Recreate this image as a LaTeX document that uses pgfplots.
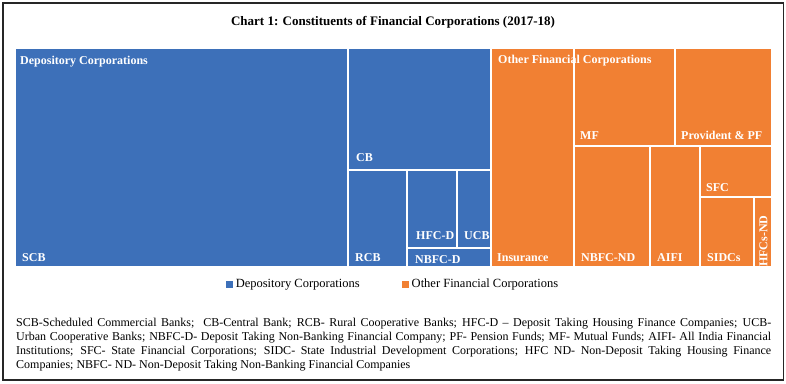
\documentclass[border=0pt]{standalone}
\usepackage{pgfplots}
\pgfplotsset{compat=1.18}
\usepackage{fontspec}
\setmainfont{Liberation Serif}
\definecolor{dcblue}{RGB}{61,112,185}
\definecolor{ofcorange}{RGB}{241,128,51}
\tikzset{lab/.style={text=white, font=\fontsize{12}{14}\selectfont\bfseries, inner sep=0pt, anchor=base west}}
\begin{document}
\begin{tikzpicture}
\begin{axis}[
  scale only axis,
  width=755pt, height=217pt,
  xmin=16, xmax=771, ymin=49, ymax=266,
  y dir=reverse,
  hide axis, clip=false, no markers,
  legend columns=2,
  legend image code/.code={\fill[#1] (0pt,-3.5pt) rectangle (7pt,3.5pt);},
  legend style={draw=none, fill=none, at={(axis cs:393,284)}, anchor=center,
    font=\fontsize{12.5}{14}\selectfont,
    /tikz/every odd column/.append style={column sep=1pt},
    /tikz/every even column/.append style={column sep=40pt}},
]
% Depository Corporations (x0,y0) (x1,y0) (x1,y1) (x0,y1)
\addplot[fill=dcblue, draw=none, forget plot] coordinates {(16,49) (347,49) (347,266) (16,266)} --cycle;   % SCB
\addplot[fill=dcblue, draw=none, forget plot] coordinates {(349,49) (490,49) (490,169) (349,169)} --cycle; % CB
\addplot[fill=dcblue, draw=none, forget plot] coordinates {(349,171) (406,171) (406,266) (349,266)} --cycle; % RCB
\addplot[fill=dcblue, draw=none, forget plot] coordinates {(408,171) (456,171) (456,247) (408,247)} --cycle; % HFC-D
\addplot[fill=dcblue, draw=none, forget plot] coordinates {(458,171) (490,171) (490,247) (458,247)} --cycle; % UCB
\addplot[fill=dcblue, draw=none, forget plot] coordinates {(408,249) (490,249) (490,266) (408,266)} --cycle; % NBFC-D
% Other Financial Corporations
\addplot[fill=ofcorange, draw=none, forget plot] coordinates {(492,49) (573,49) (573,266) (492,266)} --cycle; % Insurance
\addplot[fill=ofcorange, draw=none, forget plot] coordinates {(575,49) (674,49) (674,145) (575,145)} --cycle; % MF
\addplot[fill=ofcorange, draw=none, forget plot] coordinates {(676,49) (771,49) (771,145) (676,145)} --cycle; % Provident & PF
\addplot[fill=ofcorange, draw=none, forget plot] coordinates {(575,147) (649,147) (649,266) (575,266)} --cycle; % NBFC-ND
\addplot[fill=ofcorange, draw=none, forget plot] coordinates {(651,147) (699,147) (699,266) (651,266)} --cycle; % AIFI
\addplot[fill=ofcorange, draw=none, forget plot] coordinates {(701,147) (771,147) (771,196) (701,196)} --cycle; % SFC
\addplot[fill=ofcorange, draw=none, forget plot] coordinates {(701,198) (753,198) (753,266) (701,266)} --cycle; % SIDCs
\addplot[fill=ofcorange, draw=none, forget plot] coordinates {(755,198) (771,198) (771,266) (755,266)} --cycle; % HFCs-ND

\addlegendimage{fill=dcblue, draw=none}
\addlegendentry{Depository Corporations}
\addlegendimage{fill=ofcorange, draw=none}
\addlegendentry{Other Financial Corporations}

% tile labels
\node[lab] at (axis cs:20,64) {Depository Corporations};
\node[lab] at (axis cs:22,261) {SCB};
\node[lab] at (axis cs:356,161) {CB};
\node[lab] at (axis cs:355,261) {RCB};
\node[lab] at (axis cs:416,239) {HFC-D};
\node[lab] at (axis cs:464,239) {UCB};
\node[lab] at (axis cs:415,263) {NBFC-D};
\node[lab] at (axis cs:498,63) {Other Financial Corporations};
\node[lab] at (axis cs:497,261) {Insurance};
\node[lab] at (axis cs:580,139) {MF};
\node[lab] at (axis cs:681,139) {Provident \& PF};
\node[lab] at (axis cs:581,261) {NBFC-ND};
\node[lab] at (axis cs:657,261) {AIFI};
\node[lab] at (axis cs:706,191) {SFC};
\node[lab] at (axis cs:707,261) {SIDCs};
\node[lab, anchor=center, rotate=90] at (axis cs:763.5,241) {HFCs-ND};

% title
\node[font=\fontsize{13}{15}\selectfont\bfseries, anchor=center] at (axis cs:393,22) {Chart 1: Constituents of Financial Corporations (2017-18)};

% footnote
\begin{scope}[every node/.style={font=\fontsize{12}{14}\selectfont, inner sep=0pt, anchor=base west}]
\node at (axis cs:16,326) {\makebox[755pt][s]{SCB-Scheduled Commercial Banks;\ \ CB-Central Bank; RCB- Rural Cooperative Banks; HFC-D -- Deposit Taking Housing Finance Companies; UCB-}};
\node at (axis cs:16,340) {\makebox[755pt][s]{Urban Cooperative Banks; NBFC-D- Deposit Taking Non-Banking Financial Company; PF- Pension Funds; MF- Mutual Funds; AIFI- All India Financial}};
\node at (axis cs:16,354) {\makebox[755pt][s]{Institutions; SFC- State Financial Corporations; SIDC- State Industrial Development Corporations; HFC ND- Non-Deposit Taking Housing Finance}};
\node at (axis cs:16,368) {Companies; NBFC- ND- Non-Deposit Taking Non-Banking Financial Companies};
\end{scope}

% frame and page size
\draw[line width=1.2pt, black!85] (axis cs:3,3) rectangle (axis cs:783.5,380);
\path (axis cs:0,0) rectangle (axis cs:786,383);
\end{axis}
\end{tikzpicture}
\end{document}
